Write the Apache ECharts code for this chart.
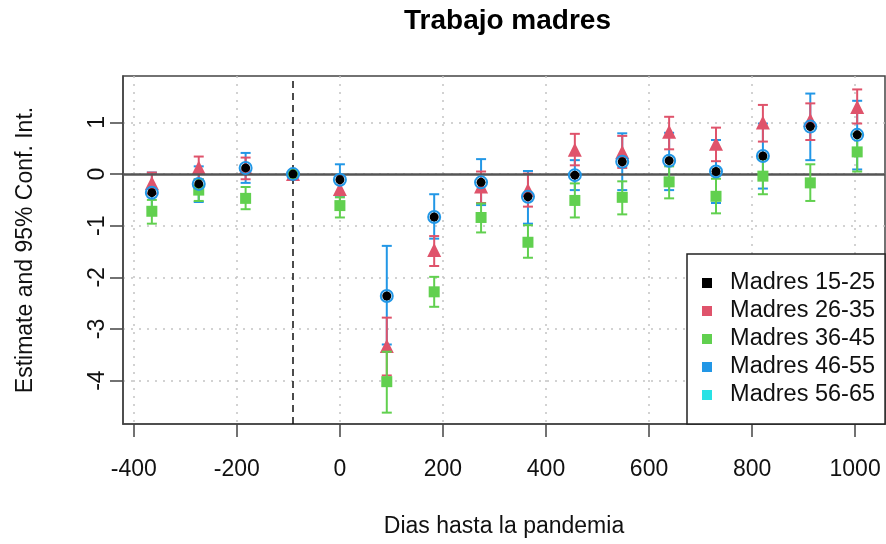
<!DOCTYPE html>
<html><head><meta charset="utf-8">
<script src="https://cdn.jsdelivr.net/npm/echarts@6/dist/echarts.min.js"></script>
<style>html,body{margin:0;padding:0;background:#fff}#c{width:886px;height:544px}</style>
</head><body><div id="c"></div>
<script>
const days = [-365,-274,-183,-91,0,91,183,274,365,456,548,639,730,821,913,1004];
const refDay = -91;
const names = ['Madres 15-25','Madres 26-35','Madres 36-45','Madres 46-55','Madres 56-65'];
const colors = ['#000000','#DF536B','#61D04F','#2297E6','#28E2E5'];

const est1525 = [-0.36,-0.19,0.12,0,-0.11,-2.36,-0.83,-0.16,-0.44,-0.02,0.24,0.26,0.05,0.35,0.92,0.76];

const est2635 = [-0.17,0.13,0.12,0,-0.29,-3.33,-1.47,-0.24,-0.31,0.47,0.43,0.82,0.59,1.00,1.05,1.30];
const lo2635  = [-0.38,-0.10,-0.10,0,-0.55,-3.90,-1.78,-0.56,-0.63,0.17,0.12,0.48,0.25,0.63,0.66,0.98];
const hi2635  = [0.03,0.34,0.32,0,-0.03,-2.78,-1.20,0.05,0.01,0.78,0.74,1.11,0.90,1.34,1.37,1.64];

const est3645 = [-0.72,-0.31,-0.47,0,-0.61,-4.02,-2.28,-0.84,-1.32,-0.51,-0.45,-0.15,-0.43,-0.04,-0.17,0.43];
const lo3645  = [-0.96,-0.52,-0.68,0,-0.84,-4.62,-2.57,-1.13,-1.62,-0.84,-0.78,-0.47,-0.76,-0.39,-0.52,0.05];
const hi3645  = [-0.50,-0.10,-0.25,0,-0.45,-3.44,-1.99,-0.57,-0.99,-0.18,-0.14,0.15,-0.09,0.30,0.19,0.78];

const est4655 = [-0.36,-0.19,0.12,0,-0.11,-2.36,-0.83,-0.16,-0.44,-0.02,0.24,0.26,0.05,0.35,0.92,0.76];
const lo4655  = [-0.65,-0.54,-0.17,0,-0.42,-3.30,-1.25,-0.60,-0.96,-0.31,-0.31,-0.31,-0.56,-0.28,0.27,0.09];
const hi4655  = [0.03,0.15,0.41,0,0.19,-1.39,-0.39,0.29,0.06,0.27,0.79,0.80,0.66,0.98,1.56,1.42];

const est5665 = [];

const xTicks = [-400,-200,0,200,400,600,800,1000];
const yTicks = [-4,-3,-2,-1,0,1];

const FONT = 'Liberation Sans, Arial, Helvetica, sans-serif';

function pts(est) { return days.map((d, i) => [d, est[i]]); }

function errSeries(name, lo, hi, color, z) {
  return {
    type: 'custom', name: name, z: z, silent: true,
    data: days.map((d, i) => [d, lo[i], hi[i]]),
    encode: { x: 0, y: [1, 2] },
    renderItem: function (params, api) {
      const x = api.value(0);
      const a = api.coord([x, api.value(1)]);
      const b = api.coord([x, api.value(2)]);
      if (Math.abs(a[1] - b[1]) < 0.5) return null;
      const hw = 5;
      const st = { stroke: color, lineWidth: 2 };
      return { type: 'group', children: [
        { type: 'line', shape: { x1: a[0], y1: a[1], x2: b[0], y2: b[1] }, style: st },
        { type: 'line', shape: { x1: a[0] - hw, y1: a[1], x2: a[0] + hw, y2: a[1] }, style: st },
        { type: 'line', shape: { x1: b[0] - hw, y1: b[1], x2: b[0] + hw, y2: b[1] }, style: st }
      ]};
    }
  };
}

const chart = echarts.init(document.getElementById('c'));
chart.setOption({
  animation: false,
  backgroundColor: '#fff',
  title: {
    text: 'Trabajo madres', left: 399, top: 2,
    textStyle: { fontFamily: FONT, fontSize: 28, fontWeight: 'bold', color: '#000' }
  },
  legend: {
    orient: 'vertical', left: 687, top: 254,
    padding: [15, 10, 15, 15],
    borderColor: '#222', borderWidth: 1.5, backgroundColor: '#fff',
    itemWidth: 10, itemHeight: 10, itemGap: 0, icon: 'rect',
    formatter: n => '  ' + n,
    textStyle: { fontFamily: FONT, fontSize: 23.5, lineHeight: 28, color: '#111' },
    data: names.map((n, i) => ({ name: n, itemStyle: { color: colors[i], borderWidth: 0, opacity: 1 } })),
    z: 20
  },
  grid: {
    left: 123, right: 1, top: 76, bottom: 120,
    show: true, borderColor: '#444', borderWidth: 1.5, backgroundColor: 'transparent'
  },
  xAxis: {
    type: 'value', min: -421, max: 1058,
    name: 'Dias hasta la pandemia', nameLocation: 'middle', nameGap: 91,
    nameTextStyle: { fontFamily: FONT, fontSize: 23, color: '#111' },
    axisLine: { show: true, onZero: false, lineStyle: { color: '#444', width: 1.5 } },
    axisTick: { show: true, length: 13, customValues: xTicks, lineStyle: { color: '#444', width: 1.5 } },
    axisLabel: { customValues: xTicks, formatter: v => String(v), margin: 34, fontFamily: FONT, fontSize: 23, color: '#111' },
    splitLine: { show: true, lineStyle: { color: '#c4c4c4', width: 1.5, type: [2, 6] } }
  },
  yAxis: {
    type: 'value', min: -4.84, max: 1.90,
    name: 'Estimate and 95% Conf. Int.', nameLocation: 'middle', nameGap: 86, nameRotate: 90,
    nameTextStyle: { fontFamily: FONT, fontSize: 23, color: '#111' },
    axisLine: { show: true, onZero: false, lineStyle: { color: '#444', width: 1.5 } },
    axisTick: { show: true, length: 13, customValues: yTicks, lineStyle: { color: '#444', width: 1.5 } },
    axisLabel: { customValues: yTicks, formatter: v => String(v), rotate: 90, margin: 14, fontFamily: FONT, fontSize: 23, color: '#111' },
    splitLine: { show: true, lineStyle: { color: '#c4c4c4', width: 1.5, type: [2, 6] } }
  },
  series: [
    {
      type: 'scatter', name: 'ref', data: [], z: 1, silent: true,
      markLine: {
        silent: true, symbol: 'none', label: { show: false }, animation: false,
        data: [
          { yAxis: 0, lineStyle: { color: '#555', width: 2.5, type: 'solid' } },
          { xAxis: refDay, lineStyle: { color: '#111', width: 1.5, type: [7, 5] } }
        ]
      }
    },
    errSeries(names[3], lo4655, hi4655, colors[3], 2),
    errSeries(names[1], lo2635, hi2635, colors[1], 3),
    {
      type: 'scatter', name: names[1], z: 4, symbol: 'triangle', symbolSize: 14,
      itemStyle: { color: colors[1], opacity: 1 }, data: pts(est2635)
    },
    errSeries(names[2], lo3645, hi3645, colors[2], 5),
    {
      type: 'scatter', name: names[2], z: 6, symbol: 'rect', symbolSize: 11,
      itemStyle: { color: colors[2], opacity: 1 },
      data: days.map((d, i) => d === refDay
        ? { value: [d, est3645[i]], symbol: 'circle', symbolSize: 11 }
        : [d, est3645[i]])
    },
    {
      type: 'scatter', name: names[0], z: 7, symbol: 'circle', symbolSize: 9,
      itemStyle: { color: colors[0], opacity: 1 }, data: pts(est1525)
    },
    {
      type: 'scatter', name: names[3], z: 8, symbol: 'circle', symbolSize: 12,
      itemStyle: { color: 'transparent', borderColor: colors[3], borderWidth: 2, opacity: 1 },
      data: pts(est4655)
    },
    {
      type: 'scatter', name: names[4], z: 8, symbol: 'circle', symbolSize: 10,
      itemStyle: { color: colors[4], opacity: 1 }, data: est5665
    }
  ]
});
</script>
</body></html>
